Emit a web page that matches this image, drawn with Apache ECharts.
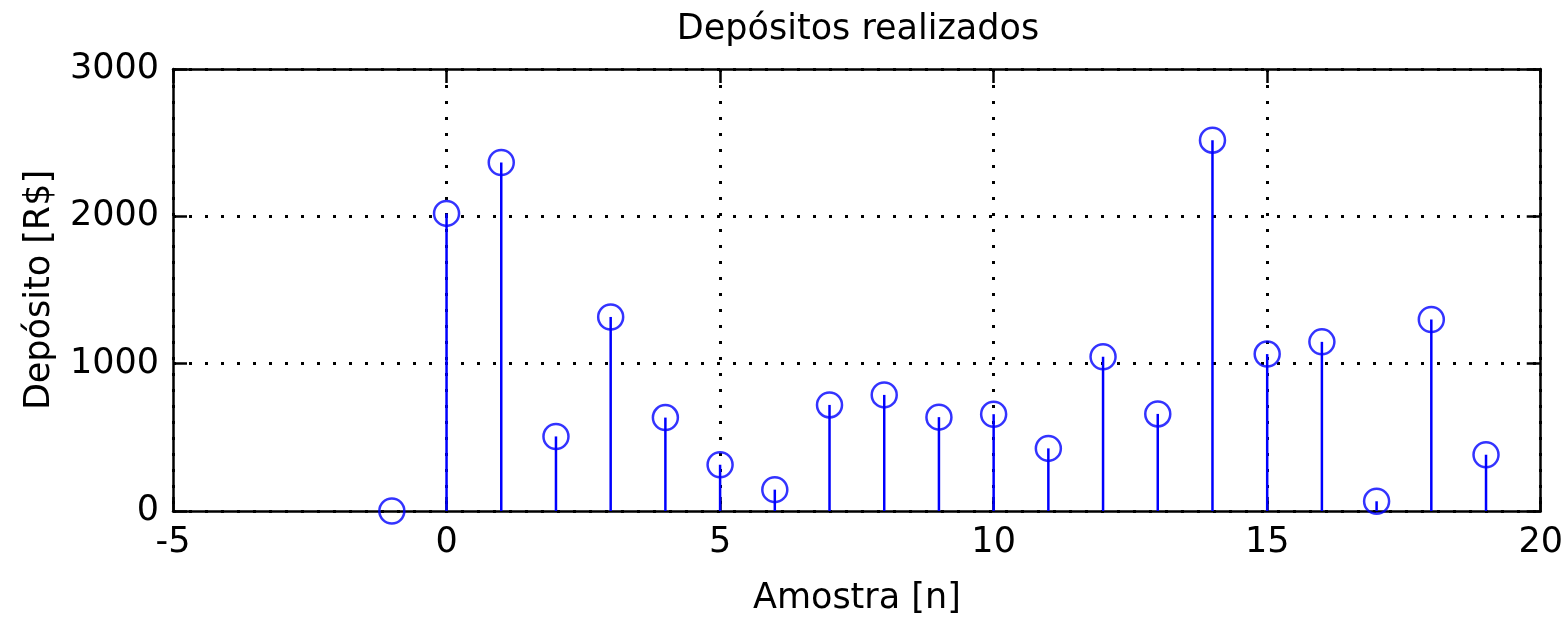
<!DOCTYPE html>
<html>
<head>
<meta charset="utf-8">
<script src="https://cdn.jsdelivr.net/npm/echarts@6/dist/echarts.min.js"></script>
<style>html,body{margin:0;padding:0;background:#fff}#c{width:1566px;height:621px}</style>
</head>
<body>
<div id="c"></div>
<script>
const samples = [-1,0,1,2,3,4,5,6,7,8,9,10,11,12,13,14,15,16,17,18,19];
const deposits = [0,2020,2365,506,1317,634,314,145,720,788,637,657,425,1047,659,2517,1065,1148,66,1300,382];
const xTicks = [-5,0,5,10,15,20];
const yTicks = [0,1000,2000,3000];
const titleText = 'Depósitos realizados';
const xLabel = 'Amostra [n]';
const yLabel = 'Depósito [R$]';

const pts = samples.map((n,i)=>[n,deposits[i]]);
const font = 'DejaVu Sans';
const fs = 35;
const axisCommon = {
  axisLine:{show:true,onZero:false,lineStyle:{color:'#000',width:2.5}},
  axisTick:{show:true,inside:true,length:14,lineStyle:{color:'#000',width:2.5}},
  splitLine:{show:false}
};
const dotted = {show:true,lineStyle:{color:'#000',width:3,type:[3,13]}};
const chart = echarts.init(document.getElementById('c'));
chart.setOption({
  animation:false,
  backgroundColor:'#fff',
  title:{text:titleText,left:853,textAlign:'center',top:7,textStyle:{fontFamily:font,fontSize:fs,fontWeight:'normal',color:'#000'}},
  grid:{left:173,right:25,top:69,bottom:109},
  xAxis:[
    Object.assign({},axisCommon,{type:'value',min:xTicks[0],max:xTicks[xTicks.length-1],interval:xTicks[1]-xTicks[0],position:'bottom',
      name:xLabel,nameLocation:'middle',nameGap:70,
      nameTextStyle:{fontFamily:font,fontSize:fs,color:'#000'},
      axisLabel:{fontFamily:font,fontSize:fs,color:'#000',margin:14,formatter:v=>String(v)},
      splitLine:dotted}),
    Object.assign({},axisCommon,{type:'value',min:xTicks[0],max:xTicks[xTicks.length-1],interval:xTicks[1]-xTicks[0],position:'top',axisLabel:{show:false}})
  ],
  yAxis:[
    Object.assign({},axisCommon,{type:'value',min:yTicks[0],max:yTicks[yTicks.length-1],interval:yTicks[1]-yTicks[0],position:'left',
      name:yLabel,nameLocation:'middle',nameGap:116,
      nameTextStyle:{fontFamily:font,fontSize:fs,color:'#000'},
      axisLabel:{fontFamily:font,fontSize:fs,color:'#000',margin:14,formatter:v=>String(v)},
      splitLine:dotted}),
    Object.assign({},axisCommon,{type:'value',min:yTicks[0],max:yTicks[yTicks.length-1],interval:yTicks[1]-yTicks[0],position:'right',axisLabel:{show:false}})
  ],
  series:[
    {type:'custom',data:pts,z:2,renderItem:function(params,api){
      const p0=api.coord([api.value(0),0]);
      const p1=api.coord([api.value(0),api.value(1)]);
      return {type:'line',shape:{x1:p0[0],y1:p0[1],x2:p1[0],y2:p1[1]},style:{stroke:'#0000ff',lineWidth:2.5}};
    }},
    {type:'scatter',data:pts,z:3,symbol:'circle',symbolSize:25,
      itemStyle:{color:'rgba(0,0,0,0)',borderColor:'#0000ff',borderWidth:2.5}}
  ]
});
</script>
</body>
</html>
